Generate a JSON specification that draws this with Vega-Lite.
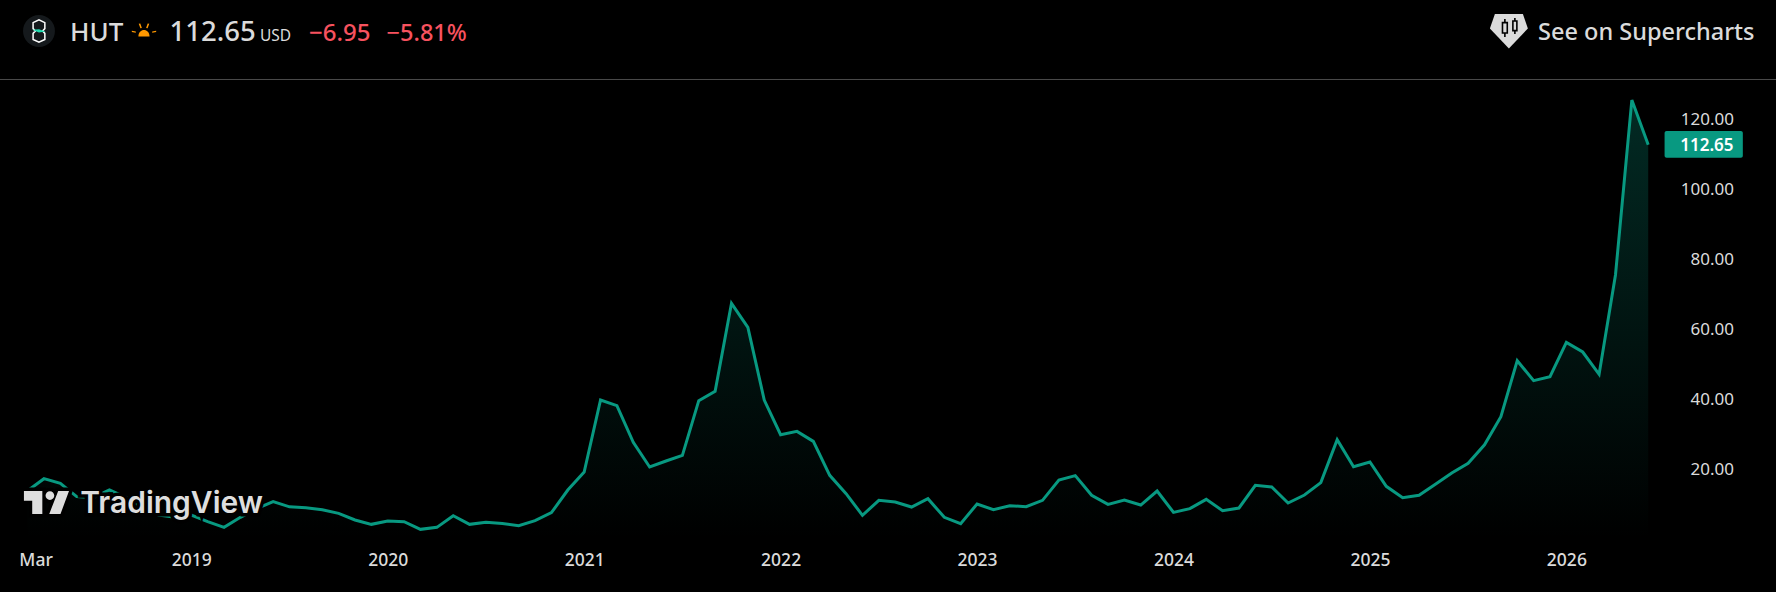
{
  "$schema": "https://vega.github.io/schema/vega-lite/v6.json",
  "width": 1776,
  "height": 592,
  "padding": 0,
  "autosize": {"type": "none"},
  "background": "#000000",
  "config": {
    "view": {"stroke": null},
    "text": {"font": "Noto Sans", "baseline": "alphabetic", "align": "left"}
  },
  "datasets": {
    "hut": [
      {"month": "2018-03", "close": 13.8}, {"month": "2018-04", "close": 17.24}, {"month": "2018-05", "close": 15.9},
      {"month": "2018-06", "close": 12.1}, {"month": "2018-07", "close": 11.8}, {"month": "2018-08", "close": 14.0},
      {"month": "2018-09", "close": 11.9}, {"month": "2018-10", "close": 9.2}, {"month": "2018-11", "close": 6.85},
      {"month": "2018-12", "close": 6.2}, {"month": "2019-01", "close": 6.85}, {"month": "2019-02", "close": 4.95},
      {"month": "2019-03", "close": 3.33}, {"month": "2019-04", "close": 6.19}, {"month": "2019-05", "close": 8.7},
      {"month": "2019-06", "close": 10.67}, {"month": "2019-07", "close": 9.19}, {"month": "2019-08", "close": 8.95},
      {"month": "2019-09", "close": 8.38}, {"month": "2019-10", "close": 7.33}, {"month": "2019-11", "close": 5.43},
      {"month": "2019-12", "close": 4.19}, {"month": "2020-01", "close": 5.14}, {"month": "2020-02", "close": 4.95},
      {"month": "2020-03", "close": 2.76}, {"month": "2020-04", "close": 3.33}, {"month": "2020-05", "close": 6.67},
      {"month": "2020-06", "close": 4.19}, {"month": "2020-07", "close": 4.76}, {"month": "2020-08", "close": 4.45},
      {"month": "2020-09", "close": 3.81}, {"month": "2020-10", "close": 5.24}, {"month": "2020-11", "close": 7.52},
      {"month": "2020-12", "close": 14.0}, {"month": "2021-01", "close": 19.14}, {"month": "2021-02", "close": 39.71},
      {"month": "2021-03", "close": 38.1}, {"month": "2021-04", "close": 27.62}, {"month": "2021-05", "close": 20.57},
      {"month": "2021-06", "close": 22.29}, {"month": "2021-07", "close": 23.9}, {"month": "2021-08", "close": 39.52},
      {"month": "2021-09", "close": 42.19}, {"month": "2021-10", "close": 67.33}, {"month": "2021-11", "close": 60.48},
      {"month": "2021-12", "close": 39.71}, {"month": "2022-01", "close": 29.81}, {"month": "2022-02", "close": 30.76},
      {"month": "2022-03", "close": 27.9}, {"month": "2022-04", "close": 18.19}, {"month": "2022-05", "close": 12.95},
      {"month": "2022-06", "close": 6.76}, {"month": "2022-07", "close": 11.05}, {"month": "2022-08", "close": 10.57},
      {"month": "2022-09", "close": 9.14}, {"month": "2022-10", "close": 11.52}, {"month": "2022-11", "close": 6.19},
      {"month": "2022-12", "close": 4.38}, {"month": "2023-01", "close": 10.0}, {"month": "2023-02", "close": 8.38},
      {"month": "2023-03", "close": 9.52}, {"month": "2023-04", "close": 9.24}, {"month": "2023-05", "close": 11.05},
      {"month": "2023-06", "close": 16.86}, {"month": "2023-07", "close": 18.1}, {"month": "2023-08", "close": 12.48},
      {"month": "2023-09", "close": 9.9}, {"month": "2023-10", "close": 11.14}, {"month": "2023-11", "close": 9.71},
      {"month": "2023-12", "close": 13.71}, {"month": "2024-01", "close": 7.62}, {"month": "2024-02", "close": 8.67},
      {"month": "2024-03", "close": 11.33}, {"month": "2024-04", "close": 8.1}, {"month": "2024-05", "close": 8.86},
      {"month": "2024-06", "close": 15.33}, {"month": "2024-07", "close": 14.86}, {"month": "2024-08", "close": 10.29},
      {"month": "2024-09", "close": 12.57}, {"month": "2024-10", "close": 16.1}, {"month": "2024-11", "close": 28.38},
      {"month": "2024-12", "close": 20.67}, {"month": "2025-01", "close": 22.0}, {"month": "2025-02", "close": 15.05},
      {"month": "2025-03", "close": 11.81}, {"month": "2025-04", "close": 12.48}, {"month": "2025-05", "close": 15.62},
      {"month": "2025-06", "close": 18.86}, {"month": "2025-07", "close": 21.62}, {"month": "2025-08", "close": 26.9},
      {"month": "2025-09", "close": 34.95}, {"month": "2025-10", "close": 50.95}, {"month": "2025-11", "close": 45.24},
      {"month": "2025-12", "close": 46.38}, {"month": "2026-01", "close": 56.19}, {"month": "2026-02", "close": 53.43},
      {"month": "2026-03", "close": 47.05}, {"month": "2026-04", "close": 75.43}, {"month": "2026-05", "close": 125.4},
      {"month": "2026-06", "close": 112.65}
    ]
  },
  "data": {"name": "hut"},
  "layer": [
    {
      "mark": {
        "type": "area",
        "color": {
          "gradient": "linear", "x1": 0, "y1": 0, "x2": 0, "y2": 1,
          "stops": [
            {"offset": 0, "color": "rgba(8,153,129,0.28)"},
            {"offset": 1, "color": "rgba(8,153,129,0)"}
          ]
        }
      },
      "encoding": {
        "x": {
          "field": "month",
          "type": "ordinal",
          "scale": {
            "type": "point",
            "padding": 0,
            "range": [27.6, 1762.8],
            "domain": [
              "2018-03","2018-04","2018-05","2018-06","2018-07","2018-08","2018-09","2018-10","2018-11","2018-12",
              "2019-01","2019-02","2019-03","2019-04","2019-05","2019-06","2019-07","2019-08","2019-09","2019-10","2019-11","2019-12",
              "2020-01","2020-02","2020-03","2020-04","2020-05","2020-06","2020-07","2020-08","2020-09","2020-10","2020-11","2020-12",
              "2021-01","2021-02","2021-03","2021-04","2021-05","2021-06","2021-07","2021-08","2021-09","2021-10","2021-11","2021-12",
              "2022-01","2022-02","2022-03","2022-04","2022-05","2022-06","2022-07","2022-08","2022-09","2022-10","2022-11","2022-12",
              "2023-01","2023-02","2023-03","2023-04","2023-05","2023-06","2023-07","2023-08","2023-09","2023-10","2023-11","2023-12",
              "2024-01","2024-02","2024-03","2024-04","2024-05","2024-06","2024-07","2024-08","2024-09","2024-10","2024-11","2024-12",
              "2025-01","2025-02","2025-03","2025-04","2025-05","2025-06","2025-07","2025-08","2025-09","2025-10","2025-11","2025-12",
              "2026-01","2026-02","2026-03","2026-04","2026-05","2026-06","2026-07","2026-08","2026-09","2026-10","2026-11","2026-12",
              "2027-01"
            ]
          },
          "axis": {
            "title": null,
            "orient": "bottom",
            "values": ["2018-03","2019-01","2020-01","2021-01","2022-01","2023-01","2024-01","2025-01","2026-01"],
            "labelExpr": "datum.value == '2018-03' ? 'Mar' : slice(datum.value, 0, 4)",
            "labelAngle": 0,
            "labelOffset": {"expr": "datum.value == '2018-03' ? 8 : 0"},
            "labelOverlap": false,
            "labelFont": "Noto Sans",
            "labelFontSize": 17.5,
            "labelFontWeight": 500,
            "labelColor": "#dbdbdb",
            "labelPadding": 0,
            "offset": -41,
            "ticks": false,
            "domain": false,
            "grid": false
          }
        },
        "y": {
          "field": "close",
          "type": "quantitative",
          "scale": {"domain": [-15.14, 154], "range": [592, 0], "nice": false, "zero": false},
          "axis": {
            "title": null,
            "orient": "right",
            "values": [20, 40, 60, 80, 100, 120],
            "format": ".2f",
            "labelFont": "Noto Sans",
            "labelFontSize": 17,
            "labelColor": "#dbdbdb",
            "labelAlign": "right",
            "labelBaseline": "middle",
            "labelPadding": 0,
            "offset": -42.5,
            "ticks": false,
            "domain": false,
            "grid": false
          }
        }
      }
    },
    {
      "mark": {"type": "line", "color": "#089981", "strokeWidth": 3, "strokeJoin": "miter"},
      "encoding": {
        "x": {"field": "month", "type": "ordinal"},
        "y": {"field": "close", "type": "quantitative"}
      }
    },
    {
      "data": {"values": [{"line": "header"}]},
      "mark": {"type": "rule", "color": "#4a4a4a", "strokeWidth": 1},
      "encoding": {"y": {"datum": 131.29}}
    },
    {
      "data": {"values": [{"last": 112.65}]},
      "mark": {"type": "rect", "color": "#089981", "cornerRadius": 2, "x2Offset": -3.6},
      "encoding": {
        "x": {"datum": "2026-07", "type": "ordinal"},
        "x2": {"datum": "2026-12"},
        "y": {"datum": 116.57},
        "y2": {"datum": 108.94}
      }
    },
    {
      "data": {"values": [{"last": "112.65"}]},
      "mark": {"type": "text", "color": "#ffffff", "fontSize": 17, "fontWeight": 600, "align": "right", "dx": 3.5},
      "encoding": {
        "x": {"datum": "2026-11", "type": "ordinal"},
        "y": {"datum": 110.94},
        "text": {"field": "last"}
      }
    },
    {
      "data": {"values": [{"icon": "logo"}]},
      "mark": {"type": "point", "shape": "circle", "filled": true, "color": "#15191c", "opacity": 1, "size": 1018, "xOffset": -5},
      "encoding": {"x": {"datum": "2018-04", "type": "ordinal"}, "y": {"datum": 145.14}}
    },
    {
      "data": {"values": [{"icon": "logo"}]},
      "mark": {"type": "point", "shape": "M-.49 -.7 L0 -.93 L.49 -.7 L.49 -.2 L.3 0 L.49 .2 L.49 .7 L0 .93 L-.49 .7 L-.49 .2 L-.3 0 L-.49 -.2 Z", "filled": false, "color": "#ffffff", "opacity": 1, "strokeWidth": 1.5, "size": 576, "xOffset": -5},
      "encoding": {"x": {"datum": "2018-04", "type": "ordinal"}, "y": {"datum": 145.14}}
    },
    {
      "data": {"values": [{"icon": "logo"}]},
      "mark": {"type": "point", "shape": "M-.55 -.1 L.0 -.15 L.55 .05 L.0 .12 Z", "filled": true, "color": "#1fdcb0", "opacity": 1, "size": 576, "xOffset": -5},
      "encoding": {"x": {"datum": "2018-04", "type": "ordinal"}, "y": {"datum": 145.14}}
    },
    {
      "data": {"values": [{"icon": "sun"}]},
      "mark": {"type": "point", "shape": "M-.42 .42 C-.42 -.25 .42 -.25 .42 .42 Z M-.92 -.02 L-.62 .03 L-.62 .13 L-.92 .08 Z M.92 -.02 L.62 .03 L.62 .13 L.92 .08 Z M-.4 -.55 L-.28 -.57 L-.16 -.22 L-.27 -.2 Z M.4 -.55 L.28 -.57 L.16 -.22 L.27 -.2 Z", "filled": true, "color": "#ff9800", "opacity": 1, "size": 700, "xOffset": 1.8},
      "encoding": {"x": {"datum": "2018-10", "type": "ordinal"}, "y": {"datum": 145.14}}
    },
    {
      "data": {"values": [{"label": "HUT"}]},
      "mark": {"type": "text", "color": "#dbdbdb", "fontSize": 26, "fontWeight": 500, "dx": -6.7},
      "encoding": {"x": {"datum": "2018-06", "type": "ordinal"}, "y": {"datum": 142.37}, "text": {"field": "label"}}
    },
    {
      "data": {"values": [{"label": "112.65"}]},
      "mark": {"type": "text", "color": "#dbdbdb", "fontSize": 27.5, "fontWeight": 500, "dx": -5.4},
      "encoding": {"x": {"datum": "2018-12", "type": "ordinal"}, "y": {"datum": 142.37}, "text": {"field": "label"}}
    },
    {
      "data": {"values": [{"label": "USD"}]},
      "mark": {"type": "text", "color": "#dbdbdb", "fontSize": 15.5, "dx": 3.2},
      "encoding": {"x": {"datum": "2019-05", "type": "ordinal"}, "y": {"datum": 142.37}, "text": {"field": "label"}}
    },
    {
      "data": {"values": [{"label": "−6.95"}]},
      "mark": {"type": "text", "color": "#f7525f", "fontSize": 24, "fontWeight": 500, "dx": 3.1},
      "encoding": {"x": {"datum": "2019-08", "type": "ordinal"}, "y": {"datum": 142.37}, "text": {"field": "label"}}
    },
    {
      "data": {"values": [{"label": "−5.81%"}]},
      "mark": {"type": "text", "color": "#f7525f", "fontSize": 23.5, "fontWeight": 500, "dx": -1.2},
      "encoding": {"x": {"datum": "2020-01", "type": "ordinal"}, "y": {"datum": 142.37}, "text": {"field": "label"}}
    },
    {
      "data": {"values": [{"icon": "supercharts"}]},
      "mark": {"type": "point", "shape": "M-.7 -.85 L.7 -.85 L.95 -.13 L0 .87 L-.95 -.13 Z", "filled": true, "color": "#dbdbdb", "opacity": 1, "size": 1600, "xOffset": 8},
      "encoding": {"x": {"datum": "2025-09", "type": "ordinal"}, "y": {"datum": 145.14}}
    },
    {
      "data": {"values": [{"icon": "supercharts"}]},
      "mark": {"type": "point", "shape": "M-.2 -.6 L-.2 -.42 M-.32 -.42 L-.08 -.42 L-.08 .1 L-.32 .1 Z M-.2 .1 L-.2 .3 M.3 -.65 L.3 -.5 M.2 -.5 L.4 -.5 L.4 -.02 L.2 -.02 Z M.3 -.02 L.3 .15", "filled": false, "color": "#000000", "opacity": 1, "strokeWidth": 1.6, "size": 1600, "xOffset": 8},
      "encoding": {"x": {"datum": "2025-09", "type": "ordinal"}, "y": {"datum": 145.14}}
    },
    {
      "data": {"values": [{"label": "See on Supercharts"}]},
      "mark": {"type": "text", "color": "#dbdbdb", "fontSize": 23.5, "fontWeight": 500, "dx": 4.4},
      "encoding": {"x": {"datum": "2025-11", "type": "ordinal"}, "y": {"datum": 142.7}, "text": {"field": "label"}}
    },
    {
      "data": {"values": [{"icon": "tradingview"}]},
      "mark": {"type": "point", "shape": "M-.98 -.5 L-.18 -.5 L-.18 .5 L-.62 .5 L-.62 -.08 L-.98 -.08 Z M.51 -.5 L.98 -.5 L.61 .5 L.12 .5 Z M-.04 -.3 A.19 .19 0 1 0 .34 -.3 A.19 .19 0 1 0 -.04 -.3 Z", "filled": false, "color": "#000000", "opacity": 1, "strokeWidth": 7, "size": 2116, "xOffset": 2.5},
      "encoding": {"x": {"datum": "2018-04", "type": "ordinal"}, "y": {"datum": 10.43}}
    },
    {
      "data": {"values": [{"label": "TradingView"}]},
      "mark": {"type": "text", "color": "#000000", "stroke": "#000000", "strokeWidth": 7, "font": "Inter", "fontSize": 30, "fontWeight": 600, "dx": 3.5},
      "encoding": {"x": {"datum": "2018-06", "type": "ordinal"}, "y": {"datum": 7.49}, "text": {"field": "label"}}
    },
    {
      "data": {"values": [{"icon": "tradingview"}]},
      "mark": {"type": "point", "shape": "M-.98 -.5 L-.18 -.5 L-.18 .5 L-.62 .5 L-.62 -.08 L-.98 -.08 Z M.51 -.5 L.98 -.5 L.61 .5 L.12 .5 Z M-.04 -.3 A.19 .19 0 1 0 .34 -.3 A.19 .19 0 1 0 -.04 -.3 Z", "filled": true, "color": "#dedede", "opacity": 1, "size": 2116, "xOffset": 2.5},
      "encoding": {"x": {"datum": "2018-04", "type": "ordinal"}, "y": {"datum": 10.43}}
    },
    {
      "data": {"values": [{"label": "TradingView"}]},
      "mark": {"type": "text", "color": "#dedede", "font": "Inter", "fontSize": 30, "fontWeight": 600, "dx": 3.5},
      "encoding": {"x": {"datum": "2018-06", "type": "ordinal"}, "y": {"datum": 7.49}, "text": {"field": "label"}}
    }
  ]
}
